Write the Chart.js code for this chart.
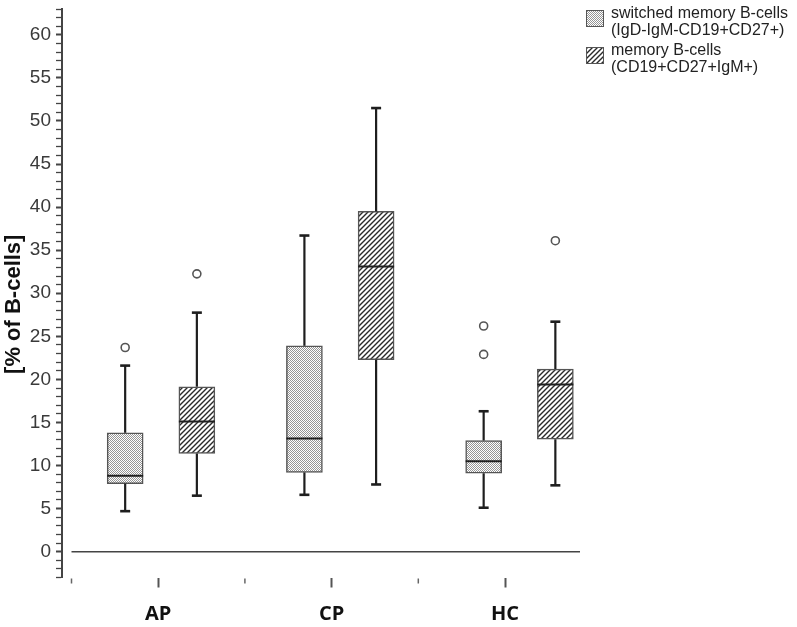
<!DOCTYPE html>
<html>
<head>
<meta charset="utf-8">
<script src="https://cdn.jsdelivr.net/npm/chart.js@4.4.1/dist/chart.umd.min.js"></script>
<style>
  body { margin: 0; background: #fff; }
  #wrap { position: relative; width: 797px; height: 627px; }
  #legend { position: absolute; left: 586px; top: 4px; font: 16px "Liberation Sans", Arial, sans-serif; color: #222; line-height: 17px; }
  .item { display: flex; align-items: flex-start; margin-bottom: 3px; }
  .item canvas { border: 1px solid #555; margin: 6px 7px 0 0; flex: none; }
</style>
</head>
<body>
<div id="wrap">
  <canvas id="chart" width="797" height="627"></canvas>
  <div id="legend"></div>
</div>
<script>
const groups = ["AP", "CP", "HC"];

const switchedMin = [4.7, 6.6, 5.1];
const switchedQ1 = [7.9, 9.2, 9.1];
const switchedMedian = [8.8, 13.15, 10.5];
const switchedQ3 = [13.8, 23.9, 12.9];
const switchedMax = [21.6, 36.7, 16.3];
const switchedOutliers = [[23.7], [], [22.9, 26.2]];

const memoryMin = [6.5, 7.8, 7.7];
const memoryQ1 = [11.4, 22.3, 13.05];
const memoryMedian = [15.1, 33.1, 19.4];
const memoryQ3 = [19.15, 39.5, 21.2];
const memoryMax = [27.75, 51.5, 26.7];
const memoryOutliers = [[32.25], [], [36.1]];

const yMin = -3;
const yMax = 63;
const yLabelStep = 5;
const yTitle = "[% of B-cells]";

function dotPattern() {
  const c = document.createElement("canvas");
  c.width = 2; c.height = 2;
  const g = c.getContext("2d");
  g.fillStyle = "#fff";
  g.fillRect(0, 0, 2, 2);
  g.fillStyle = "#959595";
  g.fillRect(0, 0, 1, 1);
  g.fillRect(1, 1, 1, 1);
  return c;
}

function hatchPattern() {
  const c = document.createElement("canvas");
  c.width = 5; c.height = 5;
  const g = c.getContext("2d");
  g.fillStyle = "#fff";
  g.fillRect(0, 0, 5, 5);
  g.strokeStyle = "#2a2a2a";
  g.lineWidth = 1.4;
  g.beginPath();
  g.moveTo(0, 5); g.lineTo(5, 0);
  g.moveTo(-1, 1); g.lineTo(1, -1);
  g.moveTo(4, 6); g.lineTo(6, 4);
  g.stroke();
  return c;
}

const ctx = document.getElementById("chart").getContext("2d");
const dots = ctx.createPattern(dotPattern(), "repeat");
const hatch = ctx.createPattern(hatchPattern(), "repeat");

const series = [
  { label: ["switched memory B-cells", "(IgD-IgM-CD19+CD27+)"], min: switchedMin, q1: switchedQ1, med: switchedMedian,
    q3: switchedQ3, max: switchedMax, out: switchedOutliers, shift: -0.2, fill: dots, tile: dotPattern },
  { label: ["memory B-cells", "(CD19+CD27+IgM+)"], min: memoryMin, q1: memoryQ1, med: memoryMedian,
    q3: memoryQ3, max: memoryMax, out: memoryOutliers, shift: 0.2, fill: hatch, tile: hatchPattern },
];

const boxSets = series.map((s) => ({
  type: "bar",
  xAxisID: "xb",
  data: groups.map((_, i) => ({ x: i + 0.5 + s.shift, y: [s.q1[i], s.q3[i]] })),
  backgroundColor: s.fill,
  borderColor: "#555",
  borderWidth: 1.5,
  borderSkipped: false,
  barThickness: 36,
  grouped: false,
}));

const outlierSets = series.map((s) => ({
  type: "scatter",
  xAxisID: "xb",
  data: s.out.flatMap((vals, i) => vals.map((v) => ({ x: i + 0.5 + s.shift, y: v }))),
  pointStyle: "circle",
  pointRadius: 4,
  pointBorderWidth: 1.6,
  pointBorderColor: "#555",
  pointBackgroundColor: "#fff",
}));

function line(c, x1, y1, x2, y2) {
  c.beginPath();
  c.moveTo(x1, y1);
  c.lineTo(x2, y2);
  c.stroke();
}

const boxParts = {
  id: "boxParts",
  beforeDatasetsDraw(chart) {
    const { ctx: c, chartArea, scales: { x, y } } = chart;
    c.save();
    c.strokeStyle = "#444";
    c.lineWidth = 1.5;
    line(c, x.getPixelForValue(0), y.getPixelForValue(0), chartArea.right, y.getPixelForValue(0));
    c.restore();
  },
  afterDatasetsDraw(chart) {
    const { ctx: c, scales: { y } } = chart;
    c.save();
    c.strokeStyle = "#1e1e1e";
    series.forEach((s, si) => {
      chart.getDatasetMeta(si).data.forEach((bar, i) => {
        const { x: cx, width } = bar.getProps(["x", "width"], true);
        const hi = y.getPixelForValue(s.max[i]);
        const lo = y.getPixelForValue(s.min[i]);
        c.lineWidth = 2.2;
        line(c, cx, y.getPixelForValue(s.q3[i]), cx, hi);
        line(c, cx, y.getPixelForValue(s.q1[i]), cx, lo);
        c.lineWidth = 2.6;
        line(c, cx - 5, hi, cx + 5, hi);
        line(c, cx - 5, lo, cx + 5, lo);
        c.lineWidth = 2;
        const m = y.getPixelForValue(s.med[i]);
        line(c, cx - width / 2, m, cx + width / 2, m);
      });
    });
    c.restore();
  },
  afterDraw(chart) {
    const { ctx: c, chartArea, scales: { x } } = chart;
    c.save();
    c.strokeStyle = "#666";
    c.lineWidth = 1.5;
    groups.forEach((_, i) => {
      const px = x.getPixelForValue(i);
      line(c, px, chartArea.bottom + 1, px, chartArea.bottom + 6);
    });
    // y title, placed a little below the axis middle like the original
    c.translate(14, (chartArea.top + chartArea.bottom) / 2 + 11);
    c.rotate(-Math.PI / 2);
    c.fillStyle = "#111";
    c.font = "bold 22px 'Liberation Sans', Arial, sans-serif";
    c.textAlign = "center";
    c.textBaseline = "middle";
    c.fillText(yTitle, 0, 0);
    c.restore();
  },
};

new Chart(ctx, {
  type: "bar",
  data: { datasets: [...boxSets, ...outlierSets] },
  options: {
    responsive: false,
    animation: false,
    layout: { padding: { top: 9, right: 217, left: 0, bottom: 0 } },
    plugins: { legend: { display: false }, tooltip: { enabled: false } },
    scales: {
      xb: {
        axis: "x",
        type: "linear",
        position: "bottom",
        display: false,
        offset: false,
        min: -0.0524,
        max: 2.8375,
      },
      x: {
        type: "linear",
        position: "bottom",
        offset: false,
        min: -0.0548,
        max: 2.9325,
        afterBuildTicks: (s) => { s.ticks = groups.map((_, i) => ({ value: i + 0.5 })); },
        afterFit: (s) => { s.height = 49.5; },
        border: { display: false },
        grid: { offset: false, drawOnChartArea: false, tickLength: 10, tickWidth: 2, tickColor: "#555" },
        ticks: {
          padding: 15,
          color: "#111",
          font: { family: "'Open Sans', sans-serif", size: 20, weight: "bold" },
          callback: (v) => groups[Math.floor(v)],
        },
      },
      y: {
        type: "linear",
        min: yMin,
        max: yMax,
        afterFit: (s) => { s.width = 62; s.paddingTop = 0; s.paddingBottom = 0; },
        border: { display: true, color: "#444", width: 2 },
        grid: {
          drawOnChartArea: false,
          tickLength: 6,
          tickColor: "#444",
          tickWidth: (c) => (c.tick && c.tick.value % yLabelStep === 0 ? 2 : 1.3),
        },
        ticks: {
          stepSize: 1,
          autoSkip: false,
          padding: 5,
          color: "#3a3a3a",
          font: { family: "'Liberation Sans', Arial, sans-serif", size: 19 },
          callback: (v) => (v >= 0 && v % yLabelStep === 0 ? v : ""),
        },
      },
    },
  },
  plugins: [boxParts],
});

const legend = document.getElementById("legend");
series.forEach((s) => {
  const item = document.createElement("div");
  item.className = "item";
  const sw = document.createElement("canvas");
  sw.width = 16; sw.height = 15;
  const g = sw.getContext("2d");
  g.fillStyle = g.createPattern(s.tile(), "repeat");
  g.fillRect(0, 0, 16, 15);
  const text = document.createElement("div");
  text.innerHTML = s.label.join("<br>");
  item.appendChild(sw);
  item.appendChild(text);
  legend.appendChild(item);
});
</script>
</body>
</html>
